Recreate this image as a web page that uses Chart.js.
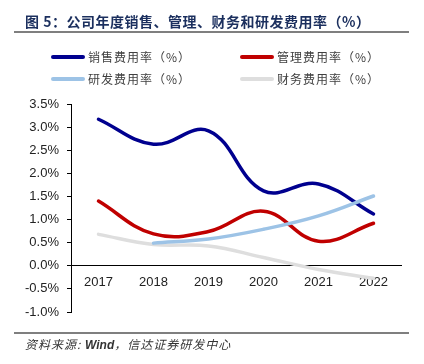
<!DOCTYPE html>
<html>
<head>
<meta charset="utf-8">
<script src="https://cdn.jsdelivr.net/npm/chart.js@4"></script>
<style>
    html, body { margin: 0; padding: 0; background: #fff; }
    #page { position: relative; width: 424px; height: 364px; overflow: hidden; }
    #chart { position: absolute; left: 0; top: 0; }
    .title {
        position: absolute; left: 25px; top: 11px;
        font: bold 14px "Noto Sans CJK SC", sans-serif; color: #1b2f5e;
        letter-spacing: 0.5px; white-space: nowrap;
    }
    .rule { position: absolute; left: 14px; width: 395px; height: 2px; background: #7f7f7f; }
    .legend-item { position: absolute; height: 16px; white-space: nowrap; }
    .legend-item i {
        position: absolute; left: 0; top: 6px; width: 34px; height: 3.5px; border-radius: 2px;
    }
    .legend-item span {
        position: absolute; left: 37px; top: -1px;
        font: 12px "Noto Sans CJK SC", sans-serif; color: #404040; letter-spacing: 1px;
    }
    .source {
        position: absolute; left: 25px; top: 335px;
        font: italic 12px "Noto Sans CJK SC", sans-serif; color: #333;
        letter-spacing: 1px; white-space: nowrap;
    }
    .source b { font: italic bold 12px "Liberation Sans", Arial, sans-serif; letter-spacing: 0; }
</style>
</head>
<body>
<div id="page">
    <canvas id="chart" width="424" height="364"></canvas>
    <div class="title">图 5：公司年度销售、管理、财务和研发费用率（%）</div>
    <div class="rule" style="top:31px"></div>
    <div id="legend"></div>
    <div class="rule" style="top:332px"></div>
    <div class="source">资料来源: <b>Wind</b>，信达证券研发中心</div>
</div>
<script>
// Chart data, values in %.
var YEARS       = ['2017', '2018', '2019', '2020', '2021', '2022'];
var SERIES_NAME = ['销售费用率（%）', '管理费用率（%）', '研发费用率（%）', '财务费用率（%）'];
var SALES       = [3.17, 2.63, 2.92, 1.62, 1.77, 1.12];
var ADMIN       = [1.40, 0.69, 0.74, 1.18, 0.53, 0.92];
var RND         = [null, 0.49, 0.58, 0.79, 1.08, 1.51];
var FINANCE     = [0.68, 0.46, 0.43, 0.18, -0.08, -0.27];
var Y_MIN = -1.0, Y_MAX = 3.5, Y_STEP = 0.5;

(function () {
    'use strict';

    var COLORS = ['#00008f', '#c00000', '#9dc3e6', '#dedede'];
    var VALUES = [SALES, ADMIN, RND, FINANCE];
    var ORDER  = [3, 2, 0, 1]; // light blue drawn on top, like the reference

    // Legend (two columns, two rows).
    var legend = document.getElementById('legend');
    var LEG_X = [51, 240], LEG_Y = [49, 71];
    SERIES_NAME.forEach(function (name, i) {
        var item = document.createElement('div');
        item.className = 'legend-item';
        item.style.left = LEG_X[i % 2] + 'px';
        item.style.top  = LEG_Y[Math.floor(i / 2)] + 'px';
        item.innerHTML = '<i style="background:' + COLORS[i] + '"></i><span>' + name + '</span>';
        legend.appendChild(item);
    });

    Chart.defaults.font.family = '"Liberation Sans", Arial, sans-serif';
    Chart.defaults.font.size = 13;
    Chart.defaults.color = '#222';

    var datasets = VALUES.map(function (vals, i) {
        return {
            label:           SERIES_NAME[i],
            data:            vals,
            borderColor:     COLORS[i],
            backgroundColor: COLORS[i],
            borderWidth:     3.5,
            borderCapStyle:  'round',
            tension:         0.4,
            pointRadius:     0,
            fill:            false,
            order:           ORDER[i],
        };
    });

    new Chart(document.getElementById('chart').getContext('2d'), {
        type: 'line',
        data: { labels: YEARS, datasets: datasets },
        options: {
            responsive: false,
            animation: false,
            devicePixelRatio: 1,
            layout: { padding: { left: 0, right: 23, top: 104, bottom: 52 } },
            plugins: { legend: { display: false }, tooltip: { enabled: false } },
            scales: {
                x: {
                    position: { y: 0 },
                    offset: true,
                    grid: { display: false, drawTicks: false },
                    border: { display: true, color: '#000', width: 1 },
                    ticks: { padding: 9, maxRotation: 0 },
                    afterFit: function (s) { s.height = 0; },
                },
                y: {
                    min: Y_MIN,
                    max: Y_MAX,
                    grid: { drawOnChartArea: false, drawTicks: true, tickLength: 4, color: '#000' },
                    border: { display: true, color: '#000', width: 1 },
                    ticks: {
                        stepSize: Y_STEP,
                        padding: 8,
                        callback: function (v) { return v.toFixed(1) + '%'; },
                    },
                    afterFit: function (s) { s.width = 71; },
                },
            },
        },
    });
}());
</script>
</body>
</html>
